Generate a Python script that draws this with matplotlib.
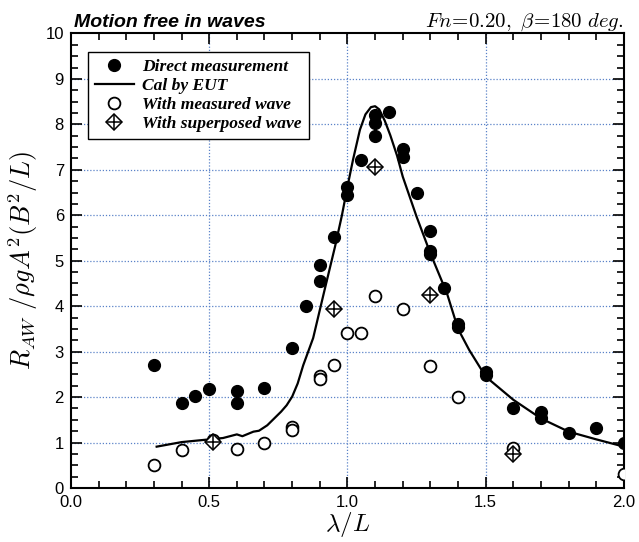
import numpy as np
import matplotlib
matplotlib.use('Agg')
import matplotlib.pyplot as plt
from matplotlib.ticker import MultipleLocator

plt.rcParams['mathtext.fontset'] = 'cm'
plt.rcParams['font.family'] = ['Liberation Sans', 'DejaVu Sans']

# direct measurement (filled circles)
x_direct = [0.30, 0.40, 0.45, 0.50, 0.60, 0.60, 0.70, 0.80, 0.85, 0.90, 0.90, 0.95,
            1.00, 1.00, 1.05, 1.10, 1.10, 1.10, 1.15, 1.20, 1.20, 1.25, 1.30, 1.30,
            1.30, 1.35, 1.40, 1.40, 1.50, 1.50, 1.60, 1.70, 1.70, 1.80, 1.90, 2.00]
y_direct = [2.70, 1.87, 2.02, 2.17, 2.14, 1.87, 2.19, 3.08, 4.00, 4.55, 4.90, 5.53,
            6.63, 6.45, 7.21, 8.20, 8.02, 7.74, 8.28, 7.46, 7.29, 6.50, 5.66, 5.22,
            5.15, 4.40, 3.60, 3.54, 2.56, 2.49, 1.75, 1.67, 1.53, 1.22, 1.33, 0.99]

# calculation by EUT (line)
x_eut = [0.31, 0.40, 0.50, 0.55, 0.60, 0.62, 0.66, 0.68, 0.71, 0.73, 0.76, 0.78,
         0.80, 0.82, 0.84, 0.876, 0.915, 0.955, 0.98, 1.00, 1.02, 1.045, 1.065,
         1.085, 1.10, 1.115, 1.135, 1.155, 1.18, 1.20, 1.25, 1.30, 1.36, 1.40,
         1.44, 1.50, 1.60, 1.70, 1.80, 1.90, 2.00]
y_eut = [0.91, 1.01, 1.07, 1.10, 1.18, 1.14, 1.24, 1.26, 1.38, 1.50, 1.68, 1.82,
         2.01, 2.30, 2.70, 3.30, 4.30, 5.31, 6.00, 6.63, 7.22, 7.88, 8.22,
         8.38, 8.40, 8.33, 8.08, 7.76, 7.30, 6.85, 5.97, 5.16, 4.28, 3.50,
         3.04, 2.45, 1.94, 1.53, 1.24, 1.07, 0.91]

# with measured wave (open circles)
x_meas = [0.30, 0.40, 0.515, 0.60, 0.70, 0.80, 0.80, 0.90, 0.90, 0.95, 1.00, 1.05,
          1.10, 1.20, 1.30, 1.40, 1.60, 2.00]
y_meas = [0.50, 0.83, 1.06, 0.85, 0.98, 1.35, 1.27, 2.47, 2.40, 2.71, 3.42, 3.40,
          4.23, 3.93, 2.69, 2.01, 0.87, 0.31]

# with superposed wave (diamonds with cross)
x_sup = [0.515, 0.95, 1.10, 1.30, 1.60]
y_sup = [1.02, 3.94, 7.07, 4.25, 0.75]

fig = plt.figure(figsize=(6.39, 5.42), dpi=100)
ax = fig.add_axes([0.111, 0.0996, 0.8655, 0.8386])

grid_color = '#5a82c8'
for gx in [0.5, 1.0, 1.5]:
    ax.axvline(gx, color=grid_color, linestyle=(0, (1, 1.5)), linewidth=0.9, zorder=0)
for gy in range(1, 10):
    ax.axhline(gy, color=grid_color, linestyle=(0, (1, 1.5)), linewidth=0.9, zorder=0)

p_direct, = ax.plot(x_direct, y_direct, 'o', color='black', markersize=8.5, linestyle='none', zorder=3)
p_eut, = ax.plot(x_eut, y_eut, '-', color='black', linewidth=1.6, zorder=2)
p_meas, = ax.plot(x_meas, y_meas, 'o', markerfacecolor='white', markeredgecolor='black',
                  markeredgewidth=1.3, markersize=8.5, linestyle='none', zorder=3)
p_sup_d, = ax.plot(x_sup, y_sup, 'D', markerfacecolor='white', markeredgecolor='black',
                   markeredgewidth=1.1, markersize=8.5, linestyle='none', zorder=4)
p_sup_p, = ax.plot(x_sup, y_sup, '+', color='black', markeredgewidth=1.1, markersize=12,
                   linestyle='none', zorder=5)

ax.set_xlim(0, 2.0)
ax.set_ylim(0, 10)
ax.xaxis.set_major_locator(MultipleLocator(0.5))
ax.xaxis.set_minor_locator(MultipleLocator(0.1))
ax.yaxis.set_major_locator(MultipleLocator(1))
ax.yaxis.set_minor_locator(MultipleLocator(0.25))
ax.xaxis.set_major_formatter(matplotlib.ticker.FormatStrFormatter('%.1f'))
ax.tick_params(which='both', direction='in', top=True, right=True, labelsize=12, width=1.2)
ax.tick_params(which='major', length=8, pad=5)
ax.tick_params(which='minor', length=5)
for s in ax.spines.values():
    s.set_linewidth(1.5)

ax.set_xlabel(r'$\lambda/L$', fontsize=18, labelpad=0)
ax.set_ylabel(r'$R_{AW}\ /\rho g A^2(B^2/L)$', fontsize=19, labelpad=4)

ax.set_title('Motion free in waves', loc='left', fontsize=14, fontweight='bold',
             fontstyle='italic', pad=5, x=0.005)
ax.set_title(r'$Fn\!=\!0.20,\ \beta\!=\!180\ deg.$', loc='right', fontsize=15, pad=5)

leg = ax.legend([p_direct, p_eut, p_meas, (p_sup_d, p_sup_p)],
                ['Direct measurement', 'Cal by EUT', 'With measured wave', 'With superposed wave'],
                loc='upper left', bbox_to_anchor=(0.031, 0.959), borderaxespad=0,
                fancybox=False, framealpha=1, edgecolor='black', handlelength=2.2,
                handletextpad=0.5, labelspacing=0.15, borderpad=0.4,
                prop={'family': 'Liberation Serif', 'weight': 'bold', 'style': 'italic', 'size': 12.6})
leg.get_frame().set_linewidth(1.0)

fig.savefig('out.png', dpi=100)
